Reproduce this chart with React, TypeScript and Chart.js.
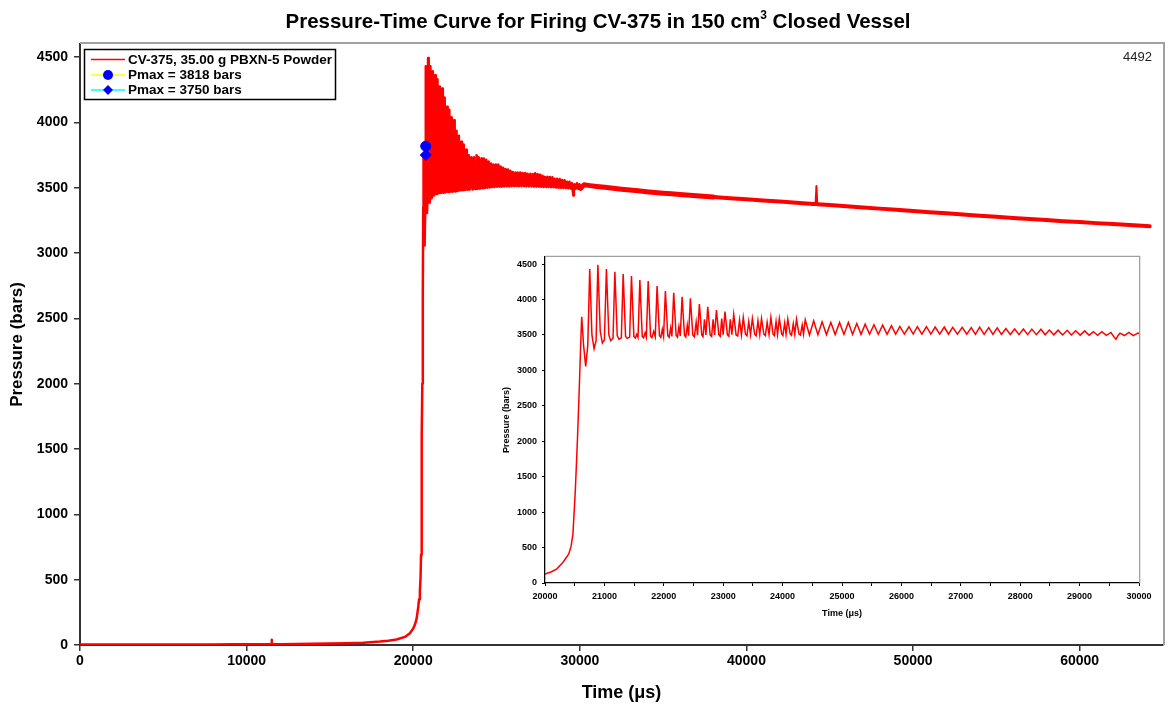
import React, { useEffect, useRef } from 'react';
import { Chart, registerables } from 'chart.js';

Chart.register(...registerables);

const FONT = '"Liberation Sans", Arial, Helvetica, sans-serif';

// ---------- text ----------
const titleMain = 'Pressure-Time Curve for Firing CV-375 in 150 cm';
const titleSup = '3';
const titleEnd = ' Closed Vessel';
const xTitle = 'Time (μs)';
const yTitle = 'Pressure (bars)';
const seriesLabel = 'CV-375, 35.00 g PBXN-5 Powder';
const pmaxLabels = ['Pmax = 3818 bars', 'Pmax = 3750 bars'];
const pmaxTimes = [20750, 20750];
const pmaxValues = [3818, 3750];

// ---------- ticks ----------
const mainXTicks = [0, 10000, 20000, 30000, 40000, 50000, 60000];
const mainYTicks = [0, 500, 1000, 1500, 2000, 2500, 3000, 3500, 4000, 4500];
const insetXTicks = [20000, 20500, 21000, 21500, 22000, 22500, 23000, 23500, 24000, 24500, 25000,
  25500, 26000, 26500, 27000, 27500, 28000, 28500, 29000, 29500, 30000];
const insetXLabelled = [20000, 21000, 22000, 23000, 24000, 25000, 26000, 27000, 28000, 29000, 30000];
const insetYTicks = [0, 500, 1000, 1500, 2000, 2500, 3000, 3500, 4000, 4500];

// ---------- data: slow build-up before ignition (time µs, pressure bar) ----------
const riseTime = [0, 1000, 2000, 3000, 4000, 5000, 6000, 7000, 8000, 9000, 10000, 11000, 11480, 11500, 11520,
  12000, 13000, 14000, 15000, 16000, 17000, 18000, 18500, 19000, 19500, 19800, 20000, 20100, 20200, 20300,
  20350, 20400, 20440, 20470, 20490, 20510, 20525, 20545, 20575, 20600];
const risePressure = [3, 3, 3, 3, 4, 4, 4, 4, 4, 5, 5, 5, 5, 40, 5,
  6, 7, 9, 11, 14, 18, 26, 32, 42, 62, 90, 126, 155, 200, 290,
  350, 410, 520, 690, 990, 1300, 1600, 2000, 2700, 3350];

// ---------- data: pressure oscillations after ignition ----------
const oscTime = [
  20618, 20650, 20685, 20720,
  20753, 20790, 20826, 20860,
  20890, 20930, 20966, 21000,
  21034, 21075, 21105, 21145,
  21176, 21216, 21245, 21285,
  21316, 21356, 21385, 21425,
  21456, 21496, 21520, 21545, 21566,
  21597, 21637, 21660, 21685, 21706,
  21737, 21777, 21800, 21830, 21856,
  21887, 21927, 21950, 21975, 21996,
  22027, 22067, 22090, 22115, 22136,
  22167, 22207, 22230, 22255, 22277,
  22308, 22348, 22370, 22395, 22417,
  22448, 22488, 22515, 22545, 22568,
  22599, 22639, 22660, 22685, 22709,
  22740, 22780, 22805, 22830, 22855,
  22886, 22926, 22950, 22975, 22999,
  23030, 23070, 23095, 23120, 23146,
  23177, 23217, 23245, 23275, 23307,
  23338, 23375, 23400, 23430, 23460,
  23491, 23530, 23555, 23585, 23615,
  23645, 23685, 23710, 23740, 23772,
  23803, 23840, 23862, 23890, 23915,
  23945, 23985, 24005, 24035, 24058,
  24087, 24127, 24150, 24180, 24205,
  24234, 24275, 24300, 24330, 24352,
  24381, 24452, 24523, 24594, 24665, 24738, 24812, 24885, 24959, 25033,
  25107, 25178, 25249, 25320, 25390, 25464, 25538, 25611, 25685, 25758,
  25832, 25903, 25974, 26050, 26127, 26198, 26269, 26345, 26422, 26495,
  26569, 26645, 26722, 26793, 26864, 26943, 27023, 27100, 27176, 27246,
  27317, 27393, 27470, 27541, 27612, 27685, 27759, 27833, 27907, 27980,
  28054, 28125, 28196, 28272, 28349, 28420, 28491, 28565, 28638, 28714,
  28791, 28862, 28933, 29010, 29086, 29160, 29233, 29304, 29375, 29450,
  29528, 29580, 29613, 29645, 29681, 29755, 29828, 29905, 29981, 30050];
const oscPressure = [
  3757, 3350, 3057, 3350,
  4430, 3500, 3306, 3420,
  4492, 3550, 3386, 3430,
  4430, 3500, 3420, 3450,
  4392, 3490, 3440, 3460,
  4360, 3480, 3452, 3470,
  4330, 3480, 3457, 3510, 3465,
  4275, 3480, 3460, 3530, 3470,
  4260, 3485, 3462, 3550, 3475,
  4190, 3490, 3465, 3580, 3480,
  4120, 3490, 3468, 3600, 3480,
  4095, 3495, 3470, 3620, 3485,
  4040, 3495, 3470, 3640, 3490,
  4016, 3500, 3472, 3680, 3495,
  3936, 3500, 3475, 3720, 3500,
  3898, 3500, 3478, 3720, 3500,
  3851, 3505, 3480, 3730, 3505,
  3830, 3505, 3482, 3720, 3505,
  3790, 3500, 3485, 3710, 3500,
  3748, 3510, 3487, 3690, 3505,
  3733, 3510, 3487, 3700, 3505,
  3733, 3510, 3490, 3680, 3505,
  3748, 3510, 3490, 3690, 3505,
  3733, 3515, 3492, 3670, 3510,
  3724, 3515, 3495, 3660, 3510,
  3724, 3515, 3498, 3640, 3512,
  3714, 3500, 3700, 3502, 3686, 3505, 3677, 3505, 3677, 3508,
  3677, 3508, 3662, 3508, 3653, 3510, 3644, 3510, 3639, 3510,
  3630, 3512, 3620, 3512, 3616, 3512, 3616, 3512, 3616, 3512,
  3612, 3512, 3612, 3510, 3606, 3510, 3606, 3510, 3604, 3508,
  3610, 3508, 3604, 3508, 3600, 3506, 3592, 3506, 3583, 3505,
  3583, 3505, 3582, 3504, 3580, 3503, 3569, 3502, 3568, 3500,
  3566, 3500, 3559, 3498, 3558, 3497, 3545, 3495, 3545, 3494,
  3535, 3470, 3440, 3490, 3526, 3492, 3535, 3490, 3526, 3495];

// ---------- data: slow cooling decay ----------
const decayTime = [30250, 30500, 30750, 31000, 31500, 32000, 32500, 33000, 33500, 34000, 34500, 35000,
  35500, 36000, 37000, 38000, 39000, 40000, 41000, 42000, 43000, 44000, 44150, 44200, 44250, 45000,
  46000, 47000, 48000, 49000, 50000, 51000, 52000, 53000, 54000, 55000, 56000, 57000, 58000, 59000,
  60000, 61000, 62000, 63000, 64000, 64200];
const decayPressure = [3522, 3518, 3514, 3510, 3503, 3496, 3489, 3482, 3476, 3470, 3464, 3458,
  3453, 3448, 3438, 3429, 3420, 3412, 3403, 3394, 3385, 3376, 3375, 3513, 3374, 3367,
  3358, 3349, 3340, 3331, 3322, 3313, 3304, 3295, 3286, 3277, 3268, 3260, 3252, 3244,
  3237, 3229, 3222, 3214, 3207, 3205];

const allTime = [...riseTime, ...oscTime, ...decayTime];
const allPressure = [...risePressure, ...oscPressure, ...decayPressure];
const curvePoints = () => allTime.map((t, i) => ({ x: t, y: allPressure[i] }));

// ---------- plugins ----------
const framePlugin = (color: string, width: number) => ({
  id: 'frameTopRight',
  beforeDatasetsDraw(chart: any) {
    const { ctx, chartArea: a } = chart;
    ctx.save();
    ctx.strokeStyle = color;
    ctx.lineWidth = width;
    ctx.beginPath();
    ctx.moveTo(a.left, a.top - width / 2);
    ctx.lineTo(a.right + width / 2, a.top - width / 2);
    ctx.lineTo(a.right + width / 2, a.bottom);
    ctx.stroke();
    ctx.restore();
  },
});

const titlePlugin = {
  id: 'mainTitle',
  afterDraw(chart: any) {
    const ctx = chart.ctx;
    ctx.save();
    ctx.fillStyle = '#000';
    ctx.textBaseline = 'alphabetic';
    const big = `bold 20.5px ${FONT}`;
    const small = `bold 12px ${FONT}`;
    ctx.font = big;
    const w1 = ctx.measureText(titleMain).width;
    const w3 = ctx.measureText(titleEnd).width;
    ctx.font = small;
    const w2 = ctx.measureText(titleSup).width;
    const total = w1 + w2 + w3;
    let x = 598 - total / 2;
    const y = 28;
    ctx.font = big;
    ctx.textAlign = 'left';
    ctx.fillText(titleMain, x, y);
    x += w1;
    ctx.font = small;
    ctx.fillText(titleSup, x, y - 9);
    x += w2;
    ctx.font = big;
    ctx.fillText(titleEnd, x, y);
    // max pressure annotation
    ctx.font = `13px ${FONT}`;
    ctx.fillStyle = '#222';
    ctx.textAlign = 'right';
    ctx.textBaseline = 'middle';
    ctx.fillText(String(Math.max(...allPressure)), 1152, 57);
    ctx.restore();
  },
};

const legendPlugin = {
  id: 'boxLegend',
  afterDraw(chart: any) {
    const ctx = chart.ctx;
    const ds = chart.data.datasets;
    ctx.save();
    ctx.fillStyle = '#fff';
    ctx.fillRect(84, 49, 251, 50);
    ctx.strokeStyle = '#000';
    ctx.lineWidth = 1.5;
    ctx.strokeRect(84.5, 49.5, 251, 50);
    const rows = [59.5, 75, 90];
    ds.forEach((d: any, i: number) => {
      const y = rows[i];
      ctx.strokeStyle = d.borderColor;
      ctx.lineWidth = 1.5;
      ctx.beginPath();
      ctx.moveTo(91, y);
      ctx.lineTo(125, y);
      ctx.stroke();
      if (d.pointStyle === 'circle') {
        ctx.fillStyle = '#0000ff';
        ctx.beginPath();
        ctx.arc(108, y, 5, 0, Math.PI * 2);
        ctx.fill();
      } else if (d.pointStyle === 'rectRot') {
        ctx.fillStyle = '#0000ff';
        ctx.beginPath();
        ctx.moveTo(108, y - 5);
        ctx.lineTo(113, y);
        ctx.lineTo(108, y + 5);
        ctx.lineTo(103, y);
        ctx.closePath();
        ctx.fill();
      }
      ctx.fillStyle = '#000';
      ctx.font = `bold 13.5px ${FONT}`;
      ctx.textAlign = 'left';
      ctx.textBaseline = 'middle';
      ctx.fillText(d.label, 128, y + 0.5);
    });
    ctx.restore();
  },
};

const tickFont = (size: number) => ({ family: FONT, size, weight: 'bold' as const });

const mainSegmentWidth = (c: any) => {
  const x = c.p0.parsed.x;
  if (x >= 44100 && x < 44240) return 2;
  if (x >= 30000 && x < 38000) return 5;
  if (x >= 38000) return 4;
  return 2.5;
};

export default function App() {
  const mainRef = useRef<HTMLCanvasElement>(null);
  const insetRef = useRef<HTMLCanvasElement>(null);

  useEffect(() => {
    const main = new Chart(mainRef.current!, {
      type: 'line',
      data: {
        datasets: [
          {
            label: seriesLabel,
            data: curvePoints(),
            borderColor: '#ff0000',
            borderWidth: 2.5,
            borderCapStyle: 'round',
            borderJoinStyle: 'round',
            segment: { borderWidth: mainSegmentWidth },
            pointRadius: 0,
            tension: 0,
            order: 2,
          },
          {
            label: pmaxLabels[0],
            data: [{ x: pmaxTimes[0], y: pmaxValues[0] }],
            borderColor: '#ffff00',
            showLine: false,
            pointStyle: 'circle',
            pointRadius: 5,
            pointBackgroundColor: '#0000ff',
            pointBorderColor: '#0000ff',
            order: 0,
          },
          {
            label: pmaxLabels[1],
            data: [{ x: pmaxTimes[1], y: pmaxValues[1] }],
            borderColor: '#00ffff',
            showLine: false,
            pointStyle: 'rectRot',
            pointRadius: 5.5,
            pointBackgroundColor: '#0000ff',
            pointBorderColor: '#0000ff',
            order: 1,
          },
        ] as any,
      },
      options: {
        animation: false,
        responsive: false,
        maintainAspectRatio: false,
        devicePixelRatio: 1,
        layout: { padding: { top: 44, right: 7, left: 0, bottom: 0 } },
        plugins: { legend: { display: false }, title: { display: false }, tooltip: { enabled: false } },
        scales: {
          x: {
            type: 'linear',
            min: 0,
            max: 65000,
            afterFit: (s: any) => { s.height = 64; },
            afterBuildTicks: (s: any) => { s.ticks = mainXTicks.map((v) => ({ value: v })); },
            ticks: { font: tickFont(14), color: '#000', padding: 2, maxRotation: 0, autoSkip: false, callback: (v: any) => String(v) },
            grid: { drawOnChartArea: false, drawTicks: true, tickLength: 6, color: '#333', lineWidth: 1.5 },
            border: { color: '#333', width: 2 },
            title: { display: true, text: xTitle, color: '#000', font: { family: FONT, size: 18, weight: 'bold' }, padding: { top: 0, bottom: 5 } },
          },
          y: {
            type: 'linear',
            min: 0,
            max: 4600,
            afterFit: (s: any) => { s.width = 80; },
            afterBuildTicks: (s: any) => { s.ticks = mainYTicks.map((v) => ({ value: v })); },
            ticks: { font: tickFont(14), color: '#000', padding: 6, autoSkip: false, callback: (v: any) => String(v) },
            grid: { drawOnChartArea: false, drawTicks: true, tickLength: 6, color: '#333', lineWidth: 1.5 },
            border: { color: '#333', width: 2 },
            title: { display: true, text: yTitle, color: '#000', font: { family: FONT, size: 17, weight: 'bold' }, padding: { top: 7, bottom: 0 } },
          },
        },
      } as any,
      plugins: [framePlugin('#a0a0a0', 2), titlePlugin, legendPlugin] as any,
    });

    const inset = new Chart(insetRef.current!, {
      type: 'line',
      data: {
        datasets: [
          {
            label: seriesLabel,
            data: curvePoints(),
            borderColor: '#ff0000',
            borderWidth: 1.5,
            pointRadius: 0,
            tension: 0,
          },
        ],
      },
      options: {
        animation: false,
        responsive: false,
        maintainAspectRatio: false,
        devicePixelRatio: 1,
        layout: { padding: { top: 12, right: 23, left: 0, bottom: 0 } },
        plugins: { legend: { display: false }, title: { display: false }, tooltip: { enabled: false } },
        scales: {
          x: {
            type: 'linear',
            min: 20000,
            max: 30000,
            afterFit: (s: any) => { s.height = 47; },
            afterBuildTicks: (s: any) => { s.ticks = insetXTicks.map((v) => ({ value: v })); },
            ticks: {
              font: tickFont(9), color: '#000', padding: 5, maxRotation: 0, autoSkip: false,
              callback: (v: any) => (insetXLabelled.includes(v) ? String(v) : ''),
            },
            grid: { drawOnChartArea: false, drawTicks: true, tickLength: 3, color: '#000', lineWidth: 1 },
            border: { color: '#000', width: 1.3 },
            title: { display: true, text: xTitle, color: '#000', font: { family: FONT, size: 9, weight: 'bold' }, padding: { top: 0, bottom: 11.5 } },
          },
          y: {
            type: 'linear',
            min: 0,
            max: 4600,
            afterFit: (s: any) => { s.width = 55; },
            afterBuildTicks: (s: any) => { s.ticks = insetYTicks.map((v) => ({ value: v })); },
            ticks: { font: tickFont(9), color: '#000', padding: 5, autoSkip: false, callback: (v: any) => String(v) },
            grid: { drawOnChartArea: false, drawTicks: true, tickLength: 3, color: '#000', lineWidth: 1 },
            border: { color: '#000', width: 1.3 },
            title: { display: true, text: yTitle, color: '#000', font: { family: FONT, size: 9, weight: 'bold' }, padding: { top: 11.5, bottom: 0 } },
          },
        },
      } as any,
      plugins: [framePlugin('#a0a0a0', 1.3)] as any,
    });

    return () => {
      main.destroy();
      inset.destroy();
    };
  }, []);

  return (
    <div style={{ position: 'absolute', left: 0, top: 0, width: 1170, height: 709, background: '#fff' }}>
      <canvas ref={mainRef} width={1170} height={709} style={{ position: 'absolute', left: 0, top: 0, width: 1170, height: 709 }} />
      <canvas ref={insetRef} width={672} height={385} style={{ position: 'absolute', left: 490, top: 245, width: 672, height: 385 }} />
    </div>
  );
}
